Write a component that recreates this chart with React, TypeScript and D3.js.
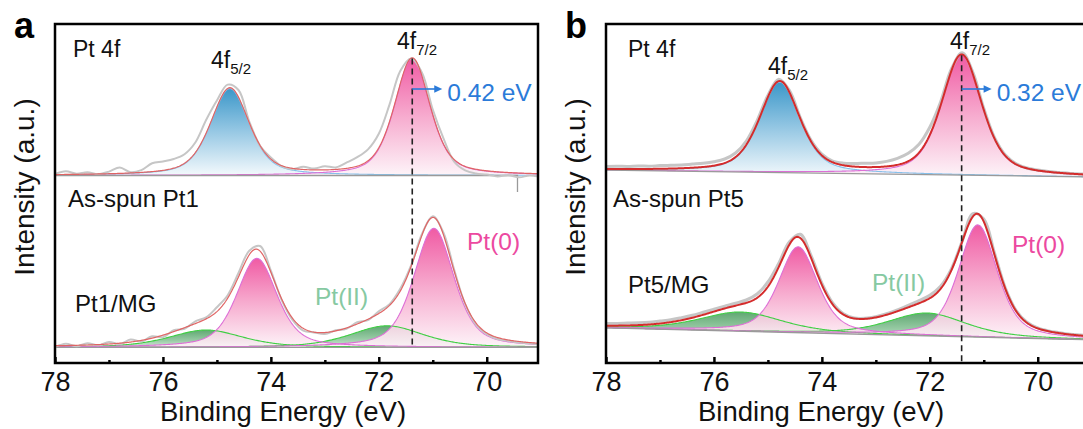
import React, { useEffect, useRef } from 'react';
import * as d3 from 'd3';

// binding energy grid of the measured spectra (eV)
const energies = [78.0, 77.8, 77.6, 77.4, 77.2, 77.0, 76.8, 76.6, 76.4, 76.2, 76.0, 75.8, 75.6, 75.4, 75.2, 75.0, 74.8, 74.6, 74.4, 74.2, 74.0, 73.8, 73.6, 73.4, 73.2, 73.0, 72.8, 72.6, 72.4, 72.2, 72.0, 71.8, 71.6, 71.4, 71.2, 71.0, 70.8, 70.6, 70.4, 70.2, 70.0, 69.8, 69.6, 69.4, 69.2, 69.0];

// measured intensities (a.u., stacked offsets included)
const rawPt1 = [63.0, 63.9, 63.1, 63.6, 63.0, 63.8, 65.2, 63.6, 64.3, 66.6, 67.2, 68.0, 69.6, 73.5, 81.0, 87.5, 92.8, 91.0, 80.5, 72.4, 68.5, 65.6, 64.6, 65.4, 64.8, 65.6, 65.2, 66.8, 68.6, 71.2, 76.4, 86.2, 97.4, 101.5, 96.8, 84.5, 74.8, 67.0, 64.2, 63.2, 62.8, 62.2, 62.6, 61.9, 62.5, 62.0];
const rawPt1MG = [5.3, 6.4, 5.6, 6.6, 5.9, 7.0, 6.3, 7.8, 7.2, 8.9, 8.6, 10.9, 11.4, 13.9, 15.2, 18.6, 22.6, 30.0, 37.4, 39.0, 30.8, 21.0, 14.4, 10.8, 10.2, 9.7, 10.9, 11.4, 13.6, 14.3, 17.2, 19.6, 24.8, 32.6, 43.0, 48.9, 43.4, 30.9, 19.6, 12.8, 9.6, 8.0, 7.4, 6.8, 6.5, 6.2];
const rawPt5 = [65.5, 65.6, 65.5, 65.7, 65.6, 65.8, 65.9, 66.0, 66.3, 66.6, 67.1, 68.0, 70.0, 74.0, 80.8, 89.2, 94.6, 90.8, 81.8, 74.2, 69.6, 67.3, 66.6, 66.5, 66.6, 66.7, 67.2, 68.2, 69.9, 72.9, 78.6, 87.0, 98.0, 103.4, 96.8, 84.9, 75.1, 69.3, 66.4, 65.0, 64.3, 63.8, 63.5, 63.2, 63.0, 62.9];
const rawPt5MG = [13.2, 13.2, 13.3, 13.4, 13.6, 14.0, 14.4, 15.1, 15.9, 16.9, 17.9, 18.9, 19.9, 21.0, 23.0, 27.0, 33.2, 40.4, 42.9, 35.8, 26.6, 20.0, 16.4, 15.0, 14.9, 15.4, 16.4, 17.7, 19.2, 20.8, 22.6, 25.6, 31.4, 40.6, 49.8, 48.0, 36.6, 25.0, 17.5, 13.6, 11.7, 10.7, 10.1, 9.6, 9.3, 9.0];

// background level at 78 eV and at 69 eV
const bgPt1 = [62.5, 62.5];
const bgPt1MG = [5.2, 5.2];
const bgPt5 = [64.3, 62.0];
const bgPt5MG = [11.7, 7.7];

// fitted components: centre (eV), height (a.u.), fwhm (eV)
const peaksPt1 = [
  { center: 74.76, height: 29, fwhm: 0.85, kind: 'blue' },
  { center: 71.38, height: 39, fwhm: 0.78, kind: 'pink' },
];
const peaksPt1MG = [
  { center: 75.2, height: 5.8, fwhm: 1.6, kind: 'green' },
  { center: 71.85, height: 7.2, fwhm: 1.6, kind: 'green' },
  { center: 74.26, height: 29.7, fwhm: 0.88, kind: 'pink' },
  { center: 70.98, height: 39.7, fwhm: 0.88, kind: 'pink' },
];
const peaksPt5 = [
  { center: 74.78, height: 30.2, fwhm: 0.88, kind: 'blue' },
  { center: 71.41, height: 40, fwhm: 0.88, kind: 'pink' },
];
const peaksPt5MG = [
  { center: 75.5, height: 6.4, fwhm: 1.8, kind: 'green' },
  { center: 72.05, height: 7.6, fwhm: 1.7, kind: 'green' },
  { center: 74.44, height: 28.6, fwhm: 0.85, kind: 'pink' },
  { center: 71.11, height: 37.4, fwhm: 0.85, kind: 'pink' },
];

const xTicks = [78, 76, 74, 72, 70];
const xMinorTicks = [77, 75, 73, 71];

const ETA = 0.5; // Gaussian/Lorentzian mix of the fit line shape
const FONT = "Arial, 'Liberation Sans', Helvetica, sans-serif";

const plotTop = 24;
const plotBottom = 363;
const plotWidth = 483;
const yScale = d3.scaleLinear().domain([0, 113]).range([plotBottom, plotTop]);
const fitGrid = d3.range(78, 68.99, -0.02);

const bgAt = (e, bg) => bg[1] + ((bg[0] - bg[1]) * (e - 69)) / 9;
const pv = (e, p) => {
  const u = ((e - p.center) / p.fwhm) ** 2;
  return p.height * (ETA / (1 + 4 * u) + (1 - ETA) * Math.exp(-4 * Math.LN2 * u));
};

const lineColor = { blue: '#86c0ea', pink: '#dd6fd6', green: '#3fcf44' };

function XAxis({ x }) {
  const ref = useRef(null);
  useEffect(() => {
    const g = d3.select(ref.current);
    g.selectAll('*').remove();
    const major = g.append('g').call(
      d3.axisBottom(x).tickValues(xTicks).tickSize(-6).tickPadding(9).tickFormat(d3.format('d'))
    );
    major.attr('font-size', 27).attr('font-family', FONT);
    major.select('.domain').remove();
    major.selectAll('line').attr('stroke', '#000').attr('stroke-width', 2.5);
    major.selectAll('text').attr('fill', '#111');
    const minor = g.append('g').call(d3.axisBottom(x).tickValues(xMinorTicks).tickSize(-3).tickFormat(() => ''));
    minor.select('.domain').remove();
    minor.selectAll('line').attr('stroke', '#000').attr('stroke-width', 2.5);
  }, [x]);
  return <g ref={ref} transform={`translate(0,${plotBottom})`} />;
}

function Spectrum({ x, raw, bg, peaks, thick, bgStop }) {
  const ordered = [...peaks.filter((p) => p.kind === 'green'), ...peaks.filter((p) => p.kind !== 'green')];
  const area = (p) =>
    d3.area().x((e) => x(e)).y0((e) => yScale(bgAt(e, bg))).y1((e) => yScale(bgAt(e, bg) + pv(e, p)))(fitGrid);
  const top = (p) => d3.line().x((e) => x(e)).y((e) => yScale(bgAt(e, bg) + pv(e, p)))(fitGrid);
  const envelope = d3
    .line()
    .x((e) => x(e))
    .y((e) => yScale(bgAt(e, bg) + d3.sum(peaks, (p) => pv(e, p))))(fitGrid);
  const rawLine = d3
    .line()
    .x((d) => x(d[0]))
    .y((d) => yScale(d[1]))
    .curve(d3.curveCatmullRom)(energies.map((e, i) => [e, raw[i]]));
  const bgEnd = bgStop ? bgStop[0] : 69;
  const bgPts = [[78, bgAt(78, bg)], [bgEnd, bgAt(bgEnd, bg)]];
  if (bgStop) bgPts.push([bgEnd, bgStop[1]]);
  const bgLine = d3.line().x((d) => x(d[0])).y((d) => yScale(d[1]))(bgPts);
  return (
    <g>
      {ordered.map((p, i) => (
        <path key={'a' + i} d={area(p)} fill={`url(#grad-${p.kind})`} opacity={p.kind === 'green' ? 0.9 : 0.92} />
      ))}
      {ordered.map((p, i) => (
        <path key={'l' + i} d={top(p)} fill="none" stroke={lineColor[p.kind]} strokeWidth={1.1} />
      ))}
      <path d={bgLine} fill="none" stroke="#9a9a9a" strokeWidth={1.3} />
      <path d={rawLine} fill="none" stroke="#c6c6c6" strokeWidth={thick ? 3 : 2} />
      <path d={envelope} fill="none" stroke={thick ? '#d42c2c' : '#e06464'} strokeWidth={thick ? 2 : 1.2} />
    </g>
  );
}

const panels = [
  {
    key: 'a', left: 55, letter: 'a', letterX: 14,
    top: { raw: rawPt1, bg: bgPt1, peaks: peaksPt1, bgStop: [69.43, 57] },
    bottom: { raw: rawPt1MG, bg: bgPt1MG, peaks: peaksPt1MG },
    thick: false, dashAt: 71.38, dashFrom: 101.5, dashTo: 5.2, shift: '0.42 eV',
    t: { pt4f: [73, 57], f52: [211, 68], f72: [397, 49], asSpun: [68, 207], mgName: 'Pt1/MG', mg: [75, 312], pt2: [315, 305], pt0: [467, 250], xt: 160 },
    sample: 'As-spun Pt1',
  },
  {
    key: 'b', left: 606, letter: 'b', letterX: 565,
    top: { raw: rawPt5, bg: bgPt5, peaks: peaksPt5 },
    bottom: { raw: rawPt5MG, bg: bgPt5MG, peaks: peaksPt5MG },
    thick: true, dashAt: 71.41, dashFrom: 102.6, dashTo: 0, shift: '0.32 eV',
    t: { pt4f: [628, 57], f52: [768, 74], f72: [950, 49], asSpun: [613, 207], mgName: 'Pt5/MG', mg: [628, 293], pt2: [872, 291], pt0: [1012, 253], xt: 698 },
    sample: 'As-spun Pt5',
  },
];

function Panel({ cfg }) {
  const x = d3.scaleLinear().domain([78, 69.05]).range([cfg.left, cfg.left + plotWidth]);
  const dx = x(cfg.dashAt);
  const arrowY = 89;
  const t = cfg.t;
  return (
    <g fontFamily={FONT}>
      <clipPath id={`clip-${cfg.key}`}>
        <rect x={cfg.left} y={plotTop} width={plotWidth} height={plotBottom - plotTop} />
      </clipPath>
      <g clipPath={`url(#clip-${cfg.key})`}>
        <Spectrum x={x} {...cfg.top} thick={cfg.thick} />
        <Spectrum x={x} {...cfg.bottom} thick={cfg.thick} />
      </g>
      <line x1={dx} x2={dx} y1={yScale(cfg.dashFrom)} y2={yScale(cfg.dashTo)} stroke="#222" strokeWidth={1.6} strokeDasharray="6 4" />
      <line x1={dx} x2={dx + 24} y1={arrowY} y2={arrowY} stroke="#2b7bd9" strokeWidth={1.6} />
      <path d={`M${dx + 22},${arrowY - 3.8}L${dx + 30},${arrowY}L${dx + 22},${arrowY + 3.8}Z`} fill="#2b7bd9" />
      <text x={dx + 35} y={101} fontSize={24.5} fill="#2b7bd9">{cfg.shift}</text>
      <rect x={cfg.left} y={plotTop} width={plotWidth} height={plotBottom - plotTop} fill="none" stroke="#000" strokeWidth={2.5} />
      <XAxis x={x} />
      <text x={cfg.letterX} y={38} fontSize={36} fontWeight="bold" fill="#000">{cfg.letter}</text>
      <text x={t.pt4f[0]} y={t.pt4f[1]} fontSize={23} fill="#111">Pt 4f</text>
      <text x={t.f52[0]} y={t.f52[1]} fontSize={23} fill="#111">
        4f<tspan fontSize={15} dy={6}>5/2</tspan>
      </text>
      <text x={t.f72[0]} y={t.f72[1]} fontSize={23} fill="#111">
        4f<tspan fontSize={15} dy={6}>7/2</tspan>
      </text>
      <text x={t.asSpun[0]} y={t.asSpun[1]} fontSize={24} fill="#111">{cfg.sample}</text>
      <text x={t.mg[0]} y={t.mg[1]} fontSize={24} fill="#111">{t.mgName}</text>
      <text x={t.pt2[0]} y={t.pt2[1]} fontSize={24.5} fill="#86c9a2">Pt(II)</text>
      <text x={t.pt0[0]} y={t.pt0[1]} fontSize={24.5} fill="#ec49a0">Pt(0)</text>
      <text x={t.xt} y={421} fontSize={27.5} fill="#111">Binding Energy (eV)</text>
      <text transform={`translate(${cfg.left - 21},187) rotate(-90)`} textAnchor="middle" fontSize={28} fill="#111">
        Intensity (a.u.)
      </text>
    </g>
  );
}

export default function App() {
  return (
    <div style={{ position: 'absolute', left: 0, top: 0 }}>
      <svg width={1083} height={429} style={{ display: 'block', background: '#fff' }}>
        <defs>
          <linearGradient id="grad-blue" x1="0" y1="0" x2="0" y2="1">
            <stop offset="0" stopColor="#2a8ec4" />
            <stop offset="0.5" stopColor="#8fc4e2" />
            <stop offset="1" stopColor="#f3f9fc" />
          </linearGradient>
          <linearGradient id="grad-pink" x1="0" y1="0" x2="0" y2="1">
            <stop offset="0" stopColor="#ef4d9c" />
            <stop offset="0.5" stopColor="#f6a5cb" />
            <stop offset="1" stopColor="#fdf3f8" />
          </linearGradient>
          <linearGradient id="grad-green" x1="0" y1="0" x2="0" y2="1">
            <stop offset="0" stopColor="#4f9e63" />
            <stop offset="0.6" stopColor="#8cc59a" />
            <stop offset="1" stopColor="#cfe7d4" />
          </linearGradient>
        </defs>
        {panels.map((p) => (
          <Panel key={p.key} cfg={p} />
        ))}
      </svg>
    </div>
  );
}
